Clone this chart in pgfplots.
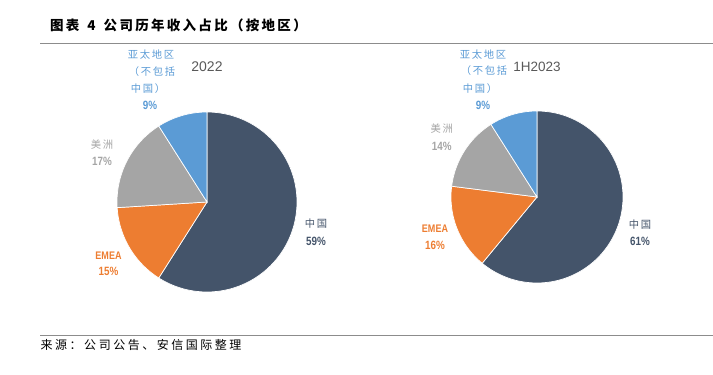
\documentclass[border=0pt]{standalone}
\usepackage{fontspec}
\usepackage{pgfplots}
\pgfplotsset{compat=1.18}
\setmainfont{Liberation Sans}
\newfontfamily\cjk{Noto Sans CJK SC}[LetterSpace=16]
\newfontfamily\cjkt{Noto Sans CJK SC}[LetterSpace=17]
\newfontfamily\cjks{Noto Sans CJK SC}[LetterSpace=21]
\newfontfamily\narrow{Liberation Sans}[FakeStretch=0.82]
\definecolor{cn}{HTML}{44546A}
\definecolor{em}{HTML}{ED7D31}
\definecolor{am}{HTML}{A5A5A5}
\definecolor{ap}{HTML}{5B9BD5}
\definecolor{rulec}{HTML}{8C8C8C}
\definecolor{ttl}{HTML}{595959}
% \slice{cx}{cy}{r}{cumulative share before}{share}{colour}
\newcommand\slice[6]{%
  \addplot[fill=#6, draw=white, line width=0.7pt, domain={90-3.6*(#4+#5)}:{90-3.6*(#4)}, samples=100, variable=\t]
    ({#1+#3*cos(\t)},{#2+#3*sin(\t)}) -- (axis cs:#1,#2) -- cycle;}
\newcommand\lab[5]{% x y colour text font
  \node[inner sep=0, text=#3, font=#5] at (axis cs:#1,#2) {#4};}
\newcommand\cjkf{\cjk\fontsize{10.3}{12}\selectfont}
\newcommand\pctf{\narrow\bfseries\fontsize{12}{14}\selectfont}
\newcommand\emf{\narrow\bfseries\fontsize{11}{13}\selectfont}
\begin{document}
\begin{tikzpicture}
\useasboundingbox (0,0) rectangle (713pt,375pt);
\begin{axis}[at={(0,0)}, anchor=south west, scale only axis, width=713pt, height=375pt,
  xmin=0, xmax=713, ymin=0, ymax=375, hide axis, clip=false]
% 2022: China 59, EMEA 15, Americas 17, APAC ex-China 9
\slice{207}{173}{90}{0}{59}{cn}
\slice{207}{173}{90}{59}{15}{em}
\slice{207}{173}{90}{59+15}{17}{am}
\slice{207}{173}{90}{59+15+17}{9}{ap}
% 1H2023: China 61, EMEA 16, Americas 14, APAC ex-China 9
\slice{537}{178}{86}{0}{61}{cn}
\slice{537}{178}{86}{61}{16}{em}
\slice{537}{178}{86}{61+16}{14}{am}
\slice{537}{178}{86}{61+16+14}{9}{ap}

% rules
\draw[rulec, line width=1.5pt] (axis cs:40,331.7) -- (axis cs:713,331.7);
\draw[rulec, line width=1.5pt] (axis cs:40,39.3) -- (axis cs:713,39.3);
% title & source
\node[anchor=west, inner sep=0, font=\cjkt\bfseries\fontsize{13.5}{15}\selectfont] at (axis cs:50,349.5)
  {图表\hspace{8pt}4\hspace{8pt}公司历年收入占比（按地区）};
\node[anchor=west, inner sep=0, font=\cjks\fontsize{12}{14}\selectfont] at (axis cs:40.5,30)
  {来源：公司公告、安信国际整理};
% chart titles
\lab{207}{308.3}{ttl}{2022}{\fontsize{14}{16}\selectfont}
\lab{537}{308.3}{ttl}{1H2023}{\fontsize{13.5}{16}\selectfont}
% labels pie 1
\lab{151}{320}{ap}{亚太地区}{\cjkf}
\lab{152}{303}{ap}{（不包括}{\cjkf}
\lab{148}{286}{ap}{中国）}{\cjkf}
\lab{150}{270}{ap}{9\%}{\pctf}
\lab{102}{230}{am}{美洲}{\cjkf}
\lab{102}{213.3}{am}{17\%}{\pctf}
\lab{108.5}{119}{em}{EMEA}{\emf}
\lab{108.5}{103.3}{em}{15\%}{\pctf}
\lab{316}{151}{cn}{中国}{\cjkf}
\lab{316}{133.3}{cn}{59\%}{\pctf}
% labels pie 2
\lab{483}{320}{ap}{亚太地区}{\cjkf}
\lab{484}{304}{ap}{（不包括}{\cjkf}
\lab{480}{286}{ap}{中国）}{\cjkf}
\lab{483}{270}{ap}{9\%}{\pctf}
\lab{441.7}{246}{am}{美洲}{\cjkf}
\lab{441.7}{229}{am}{14\%}{\pctf}
\lab{435}{146}{em}{EMEA}{\emf}
\lab{435}{130}{em}{16\%}{\pctf}
\lab{640}{150}{cn}{中国}{\cjkf}
\lab{640}{133.3}{cn}{61\%}{\pctf}
\end{axis}
\end{tikzpicture}
\end{document}
